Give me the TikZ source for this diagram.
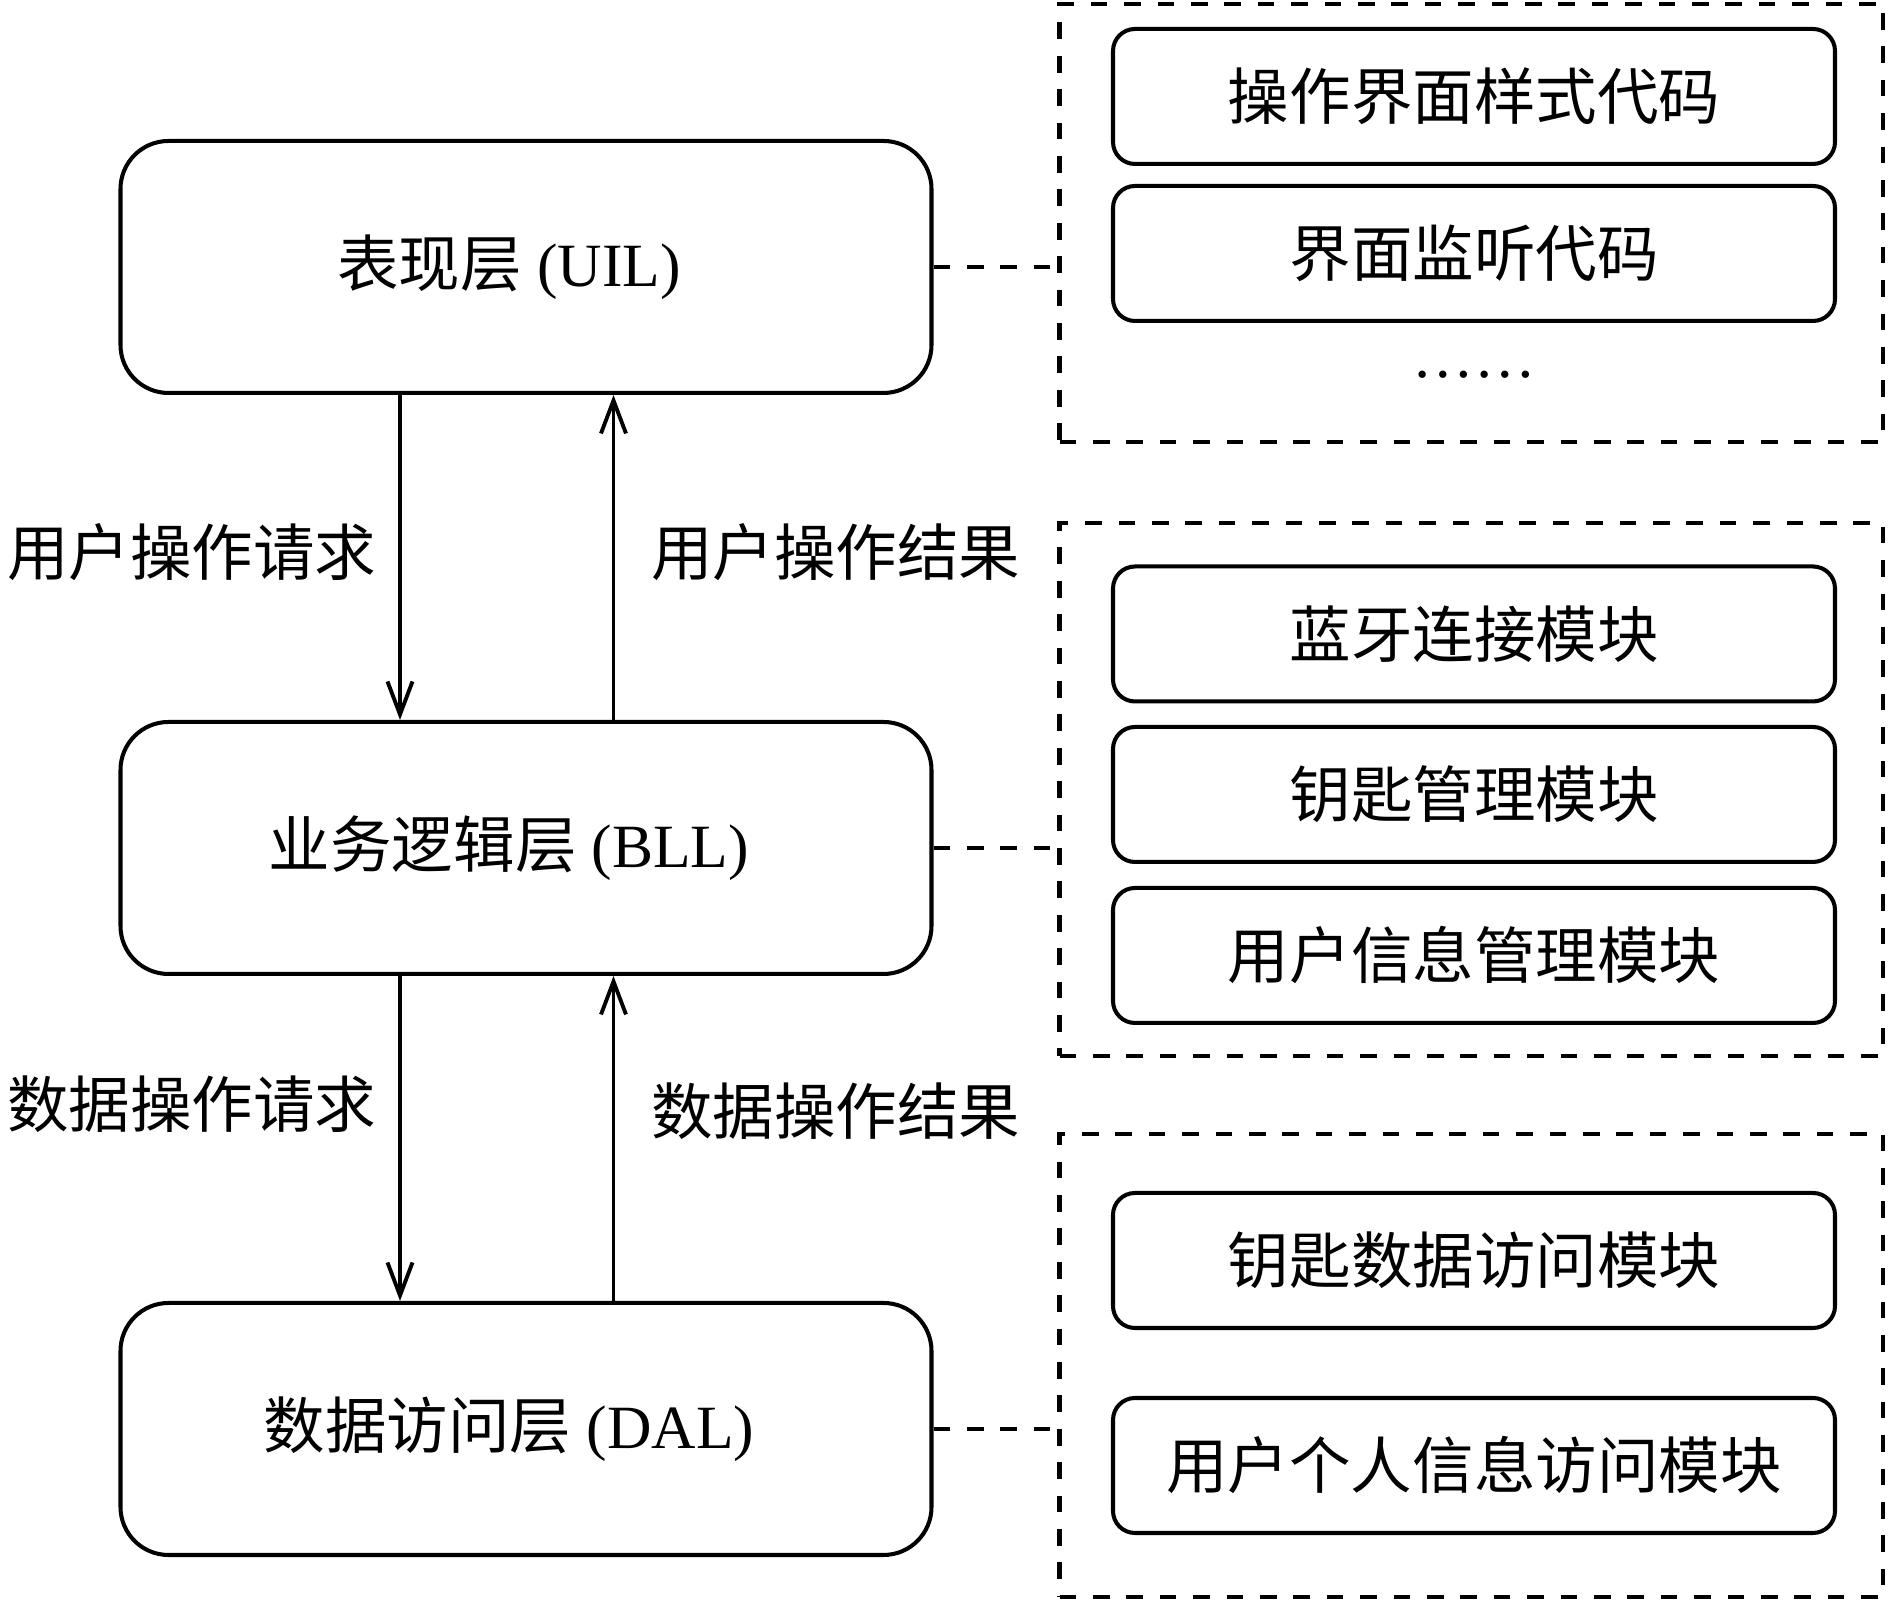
\documentclass[tikz,border=0pt]{standalone}
\usepackage{fontspec}
\setmainfont{Liberation Serif}
\newfontfamily\cjk{Noto Sans CJK SC}
\usetikzlibrary{arrows.meta,positioning}

\tikzset{
  layer/.style={draw, line width=1.15pt, rounded corners=0.48cm, minimum width=8.11cm, minimum height=2.52cm, font=\fontsize{17.5}{20}\selectfont, execute at begin node=\hspace*{-0.34cm}},
  module/.style={draw, line width=1.15pt, rounded corners=0.22cm, minimum width=7.22cm, minimum height=1.35cm, font=\fontsize{17.5}{20}\selectfont\cjk},
  group/.style={draw, line width=1.15pt, dash pattern=on 0.167cm off 0.167cm, minimum width=8.235cm, inner sep=0pt},
  link/.style={line width=1.15pt, dash pattern=on 0.167cm off 0.167cm},
  flow/.style={line width=1.1pt, -{Straight Barb[length=0.33cm,width=0.25cm]}},
  note/.style={font=\fontsize{17.5}{20}\selectfont\cjk}
}

\begin{document}
\begin{tikzpicture}
\useasboundingbox (0,0) rectangle (18.9,16);
% three layers
\node[layer] (uil) at (5.26,13.33) {{\cjk 表现层} (UIL)};
\node[layer] (bll) at (5.26,7.52) {{\cjk 业务逻辑层} (BLL)};
\node[layer] (dal) at (5.26,1.71) {{\cjk 数据访问层} (DAL)};
% dashed groups
\node[group, minimum height=4.384cm] (g1) at (14.7125,13.772) {};
\node[group, minimum height=5.33cm] (g2) at (14.7125,8.105) {};
\node[group, minimum height=4.63cm] (g3) at (14.7125,2.345) {};
% modules
\node[module] (style) at (14.74,15.035) {操作界面样式代码};
\node[module] (listen) at (14.74,13.465) {界面监听代码};
\node[anchor=base, font=\fontsize{17.5}{20}\selectfont] (more) at (14.74,12.22) {……};
\node[module] (bt) at (14.74,9.66) {蓝牙连接模块};
\node[module] (key) at (14.74,8.055) {钥匙管理模块};
\node[module] (user) at (14.74,6.445) {用户信息管理模块};
\node[module] (keydata) at (14.74,3.395) {钥匙数据访问模块};
\node[module] (userdata) at (14.74,1.345) {用户个人信息访问模块};
% links to groups
\draw[link] (uil.east) -- (uil.east -| g1.west);
\draw[link] (bll.east) -- (bll.east -| g2.west);
\draw[link] (dal.east) -- (dal.east -| g3.west);
% requests and results
\draw[flow] ([xshift=-1.26cm]uil.south) -- ([xshift=-1.26cm]bll.north)
  node[note, midway, left=0.1cm, yshift=0.05cm] (req1) {用户操作请求};
\draw[flow] ([xshift=0.875cm]bll.north) -- ([xshift=0.875cm]uil.south)
  node[note, midway, right=0.24cm, yshift=0.05cm] (res1) {用户操作结果};
\draw[flow] ([xshift=-1.26cm]bll.south) -- ([xshift=-1.26cm]dal.north)
  node[note, midway, left=0.1cm, yshift=0.34cm] (req2) {数据操作请求};
\draw[flow] ([xshift=0.875cm]dal.north) -- ([xshift=0.875cm]bll.south)
  node[note, midway, right=0.24cm, yshift=0.27cm] (res2) {数据操作结果};
\end{tikzpicture}
\end{document}
